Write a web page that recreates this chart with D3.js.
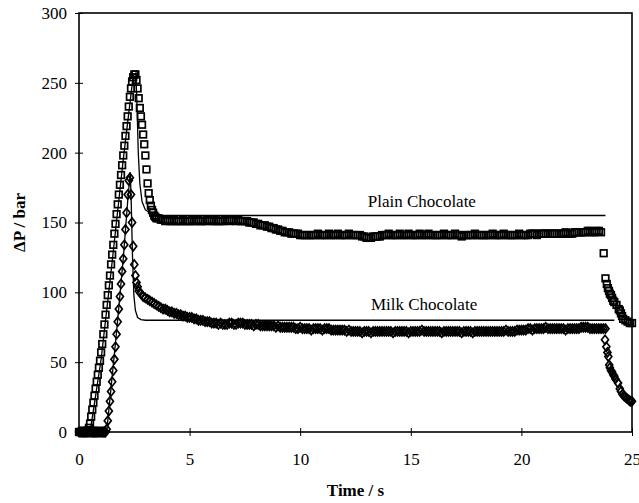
<!DOCTYPE html>
<html>
<head>
<meta charset="utf-8">
<script src="https://cdn.jsdelivr.net/npm/d3@7"></script>
<style>
  body { margin: 0; background: #fff; }
  svg text { font-family: "Liberation Serif", "DejaVu Serif", "Times New Roman", serif !important; fill: #000; }
</style>
</head>
<body>
<div id="chart"></div>
<script>
// ---- data (time in s, pressure drop in bar) ----
const xTicks = [0, 5, 10, 15, 20, 25];
const yTicks = [0, 50, 100, 150, 200, 250, 300];

// plain chocolate (open squares)
const plainRiseStart = 0, plainRiseStep = 0.05;
const plainRise = [0, 0, 0, 0, 0, 0, 0, 0, 1, 3, 6, 11, 16, 21, 26, 31, 36, 41, 46, 51,
  57, 63, 70, 77, 84, 91, 98, 105, 112, 120, 127, 134, 142, 149, 156, 163, 170, 177, 184, 191,
  198, 205, 212, 219, 226, 233, 240, 246, 251, 254, 256, 256];
const plainFallStart = 2.6, plainFallStep = 0.05;
const plainFall = [252, 246, 239, 232, 226, 220, 213, 206, 198, 188, 178, 171, 166, 162, 159, 157, 155, 154, 153];
const plainFlatStart = 3.6, plainFlatStep = 0.1;
const plainFlat = [
  153, 152, 152, 151, 152, 151, 151, 152, 151, 151,
  151, 152, 151, 151, 151, 152, 151, 151, 152, 151,
  151, 151, 152, 152, 151, 151, 152, 151, 151, 151,
  152, 152, 151, 152, 152, 151, 152, 151, 151, 151,
  151, 150, 150, 150, 149, 149, 148, 148, 148, 147,
  147, 146, 146, 145, 145, 144, 144, 143, 143, 143,
  142, 142, 142, 142, 141, 141, 141, 141, 141, 141,
  141, 141, 142, 141, 141, 141, 141, 142, 141, 141,
  141, 142, 141, 141, 141, 141, 142, 141, 141, 141,
  141, 141, 140, 140, 139, 139, 139, 140, 140, 140,
  140, 141, 141, 141, 142, 141, 141, 141, 141, 142,
  141, 141, 141, 142, 141, 141, 141, 141, 142, 141,
  141, 141, 142, 141, 141, 141, 141, 141, 141, 142,
  141, 141, 141, 141, 142, 141, 141, 140, 141, 141,
  141, 141, 141, 142, 141, 141, 141, 141, 141, 141,
  141, 142, 141, 141, 141, 141, 142, 141, 141, 141,
  141, 141, 141, 142, 141, 141, 141, 141, 142, 142,
  142, 141, 142, 142, 142, 142, 142, 142, 142, 142,
  142, 142, 142, 142, 143, 142, 142, 142, 143, 143,
  143, 143, 143, 143, 144, 144, 143, 143, 144, 144,
  143];
const plainTail = [[23.72, 128], [23.8, 110], [23.86, 106], [23.91, 103], [23.96, 101], [24.0, 99],
  [24.05, 98], [24.1, 96], [24.15, 94], [24.2, 93], [24.3, 91], [24.4, 88], [24.45, 87], [24.5, 85],
  [24.55, 83], [24.6, 81], [24.7, 80], [24.8, 79], [24.9, 78], [25.0, 78]];

// milk chocolate (open diamonds)
const milkRiseStart = 0, milkRiseStep = 0.05;
const milkRise = [0, 0, 0, 0, 0, 0, 0, 0, 0, 0, 0, 0, 0, 0, 0, 0, 0, 0, 0, 0, 0, 0, 0, 0, 0,
  2, 8, 15, 22, 29, 36, 44, 52, 61, 70, 79, 88, 97, 106, 115, 124, 134, 145, 157, 170, 180, 182];
const milkFallStart = 2.35, milkFallStep = 0.05;
const milkFall = [170, 150, 133, 120, 112, 107, 104];
const milkFlatStart = 2.7, milkFlatStep = 0.1;
const milkFlat = [
  101, 99, 97, 96, 95, 94, 93, 92, 91, 90,
  89, 88, 88, 87, 86, 86, 85, 85, 84, 84,
  83, 83, 82, 82, 82, 81, 81, 80, 80, 80,
  79, 79, 79, 78, 78, 78, 77, 78, 77, 77,
  77, 78, 78, 77, 77, 78, 78, 78, 77, 77,
  77, 77, 76, 77, 77, 76, 76, 76, 76, 76,
  76, 76, 75, 76, 75, 75, 75, 75, 75, 75,
  75, 74, 74, 75, 74, 74, 74, 74, 73, 74,
  74, 74, 74, 73, 74, 74, 74, 73, 73, 73,
  73, 73, 73, 73, 72, 73, 72, 72, 72, 72,
  72, 71, 72, 72, 72, 71, 72, 72, 72, 72,
  72, 72, 72, 72, 72, 71, 72, 72, 72, 72,
  72, 72, 71, 72, 72, 72, 72, 72, 73, 72,
  72, 72, 72, 72, 72, 72, 72, 71, 72, 72,
  72, 72, 72, 72, 72, 72, 71, 72, 72, 72,
  72, 71, 72, 72, 72, 72, 72, 72, 72, 72,
  72, 72, 72, 72, 72, 72, 73, 72, 72, 72,
  72, 73, 73, 73, 73, 73, 74, 74, 73, 74,
  74, 74, 74, 74, 75, 74, 74, 74, 74, 74,
  74, 74, 74, 73, 74, 74, 74, 74, 74, 74,
  75, 75, 75, 75, 74, 74, 74, 74, 74, 74,
  74, 74];
const milkTail = [[23.78, 66], [23.84, 61], [23.89, 57], [23.93, 54], [23.97, 48], [24.0, 46],
  [24.05, 44], [24.1, 43], [24.15, 41], [24.2, 40], [24.25, 38], [24.37, 35], [24.45, 31],
  [24.5, 29], [24.57, 27], [24.63, 26], [24.7, 25], [24.77, 24], [24.85, 23], [24.92, 22], [25.0, 22]];

// model curves (solid lines)
const plainModelT = [0, 0.5, 1.0, 1.5, 2.0, 2.45, 2.57, 2.62, 2.68, 2.75, 2.85, 3.0, 3.3, 3.7, 23.8];
const plainModelV = [0, 0, 52, 122, 195, 255, 257, 235, 200, 178, 165, 159, 156, 155, 155];
const milkModelT = [0, 1.25, 1.7, 2.0, 2.2, 2.32, 2.36, 2.42, 2.48, 2.55, 2.65, 2.8, 3.0, 24.2];
const milkModelV = [0, 0, 72, 124, 165, 186, 165, 125, 98, 87, 82, 80.5, 80, 80];

// ---- build point lists ----
function stepped(start, step, values) {
  return values.map((v, i) => [start + i * step, v]);
}
const plainPts = [].concat(
  stepped(plainRiseStart, plainRiseStep, plainRise),
  stepped(plainFallStart, plainFallStep, plainFall),
  stepped(plainFlatStart, plainFlatStep, plainFlat),
  plainTail);
const milkPts = [].concat(
  stepped(milkRiseStart, milkRiseStep, milkRise),
  stepped(milkFallStart, milkFallStep, milkFall),
  stepped(milkFlatStart, milkFlatStep, milkFlat),
  milkTail);

const serif = "'Liberation Serif', 'DejaVu Serif', 'Times New Roman', serif";

const margin = {top: 13, right: 7, bottom: 71, left: 79},
    width = 639 - margin.left - margin.right,
    height = 503 - margin.top - margin.bottom;

const x = d3.scaleLinear().domain([0, 25]).range([0, width]);
const y = d3.scaleLinear().domain([0, 300]).range([height, 0]);

const svg = d3.select("#chart").append("svg")
    .attr("width", 639)
    .attr("height", 503)
  .append("g")
    .attr("transform", "translate(" + margin.left + "," + margin.top + ")");

// X axis
const xAxis = svg.append("g")
    .attr("transform", "translate(0," + height + ")")
    .call(d3.axisBottom(x).tickValues(xTicks).tickSize(4).tickPadding(17));
xAxis.attr("font-family", serif).attr("font-size", 17);
xAxis.select(".domain").remove();
xAxis.selectAll(".tick line").attr("y1", -4).attr("stroke", "#000").attr("stroke-width", 1);
xAxis.selectAll("text").style("font-family", serif).style("font-size", "17px").attr("fill", "#000");

// Y axis
const yAxis = svg.append("g")
    .call(d3.axisLeft(y).tickValues(yTicks).tickSize(4).tickPadding(8));
yAxis.attr("font-family", serif).attr("font-size", 17);
yAxis.select(".domain").remove();
yAxis.selectAll(".tick line").attr("x1", 4).attr("stroke", "#000").attr("stroke-width", 1);
yAxis.selectAll("text").style("font-family", serif).style("font-size", "17px").attr("fill", "#000");

// frame
svg.append("rect")
    .attr("width", width)
    .attr("height", height)
    .attr("fill", "none")
    .attr("stroke", "#000")
    .attr("stroke-width", 1.6);

// squares (hollow, so overlapping outlines build up a solid band)
svg.selectAll(".sq")
    .data(plainPts)
  .enter().append("rect")
    .attr("class", "sq")
    .attr("x", d => x(d[0]) - 3.3)
    .attr("y", d => y(d[1]) - 3.3)
    .attr("width", 6.6)
    .attr("height", 6.6)
    .attr("fill", "none")
    .attr("stroke", "#000")
    .attr("stroke-width", 1.7);

// diamonds
svg.selectAll(".dm")
    .data(milkPts)
  .enter().append("path")
    .attr("class", "dm")
    .attr("d", "M0,-4.5L3.5,0L0,4.5L-3.5,0Z")
    .attr("transform", d => "translate(" + x(d[0]) + "," + y(d[1]) + ")")
    .attr("fill", "none")
    .attr("stroke", "#000")
    .attr("stroke-width", 1.7);

// model lines
const line = d3.line().x(d => x(d[0])).y(d => y(d[1]));
svg.append("path")
    .datum(plainModelT.map((t, i) => [t, plainModelV[i]]))
    .attr("d", line)
    .attr("fill", "none")
    .attr("stroke", "#000")
    .attr("stroke-width", 1.3);
svg.append("path")
    .datum(milkModelT.map((t, i) => [t, milkModelV[i]]))
    .attr("d", line)
    .attr("fill", "none")
    .attr("stroke", "#000")
    .attr("stroke-width", 1.3);

// curve labels
svg.append("text")
    .attr("x", x(15.5))
    .attr("y", y(161))
    .style("text-anchor", "middle")
    .style("font-family", serif)
    .style("font-size", "17px")
    .text("Plain Chocolate");
svg.append("text")
    .attr("x", x(15.6))
    .attr("y", y(87))
    .style("text-anchor", "middle")
    .style("font-family", serif)
    .style("font-size", "17px")
    .text("Milk Chocolate");

// axis titles
svg.append("text")
    .attr("x", width / 2)
    .attr("y", height + 64)
    .style("text-anchor", "middle")
    .style("font-family", serif)
    .style("font-size", "17px")
    .style("font-weight", "bold")
    .text("Time / s");

svg.append("text")
    .attr("transform", "rotate(-90)")
    .attr("x", -height / 2)
    .attr("y", 25 - margin.left)
    .style("text-anchor", "middle")
    .style("font-family", serif)
    .style("font-size", "17px")
    .style("font-weight", "bold")
    .text("ΔP / bar");
</script>
</body>
</html>
